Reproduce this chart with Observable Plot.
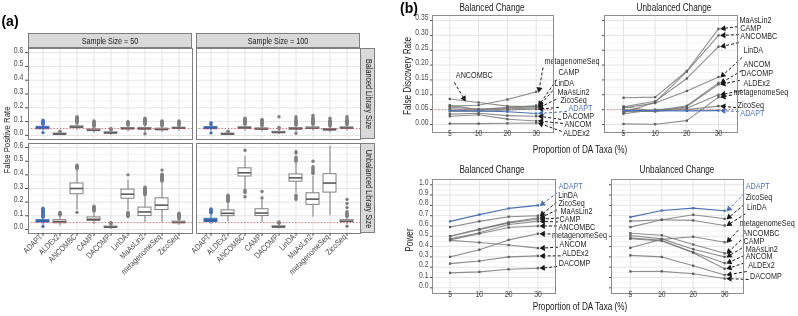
<!DOCTYPE html>
<html><head><meta charset="utf-8">
<script src="https://cdn.jsdelivr.net/npm/d3@7"></script>
<script src="https://cdn.jsdelivr.net/npm/@observablehq/plot@0.6"></script>
<style>
html,body{margin:0;background:#fff;}
#root{position:relative;width:798px;height:316px;overflow:hidden;font-family:"Liberation Sans",Arial,Helvetica,sans-serif;background:transparent;will-change:transform;}
.t{position:absolute;white-space:nowrap;color:#1a1a1a;line-height:1;filter:grayscale(1);}
.strip{position:absolute;background:#d9d9d9;border:1px solid #7f7f7f;box-sizing:border-box;}
</style></head><body><div id="root"></div>
<script>
// ---------- DATA ----------
const methods = ["ADAPT","ALDEx2","ANCOMBC","CAMP","DACOMP","LinDA","MaAsLin2","metagenomeSeq","ZicoSeq"];
const yTicksA = [0,0.1,0.2,0.3,0.4,0.5,0.6];
const yMinorA = [0.05,0.15,0.25,0.35,0.45,0.55];
// box stats per method: [lower whisker, q1, median, q3, upper whisker]
const boxBal50 = [
 [0.03,0.044,0.052,0.062,0.075],[0.0,0.006,0.009,0.013,0.02],[0.035,0.055,0.06,0.066,0.083],
 [0.015,0.032,0.037,0.043,0.06],[0.0,0.014,0.018,0.022,0.035],[0.025,0.044,0.049,0.054,0.07],
 [0.02,0.042,0.048,0.054,0.075],[0.02,0.038,0.043,0.049,0.065],[0.03,0.048,0.052,0.056,0.068]];
const outBal50 = [
 [0.02,0.08,0.085,0.09,0.095,0.1,0.105,0.11],[0.025,0.03],[0.09,0.095,0.1,0.105,0.11,0.115,0.12,0.125,0.13,0.135],
 [0.065,0.07,0.075,0.08,0.085,0.09,0.095,0.1,0.105],[0.04,0.045,0.05],[0.075,0.08,0.085,0.09,0.095,0.1],
 [0.012,0.08,0.085,0.09,0.095,0.1,0.105,0.11,0.115,0.12,0.125],[0.07,0.075,0.08,0.085,0.09,0.095,0.1,0.105],[0.072,0.078,0.084,0.09,0.096,0.1,0.105]];
const boxBal100 = [
 [0.03,0.045,0.051,0.06,0.072],[0.0,0.006,0.009,0.013,0.02],[0.03,0.049,0.054,0.059,0.075],
 [0.025,0.041,0.046,0.051,0.066],[0.005,0.017,0.021,0.026,0.04],[0.025,0.043,0.048,0.054,0.07],
 [0.03,0.047,0.052,0.058,0.075],[0.02,0.036,0.041,0.046,0.062],[0.03,0.049,0.053,0.058,0.072]];
const outBal100 = [
 [0.018,0.078,0.085,0.092],[0.025,0.03],[0.08,0.085,0.09,0.095,0.1,0.105,0.11,0.115,0.12,0.125],
 [0.07,0.075,0.08,0.085,0.09,0.095,0.1,0.105,0.11,0.115],[0.05,0.058,0.135],[0.015,0.075,0.08,0.085,0.09,0.095,0.1,0.11,0.12,0.135],
 [0.08,0.085,0.09,0.095,0.1,0.105,0.11,0.115,0.12,0.13,0.145],[0.068,0.075,0.08,0.085,0.09,0.095,0.1,0.11,0.125],[0.078,0.085,0.09,0.095,0.1,0.105,0.11,0.12,0.135]];
const boxUnb50 = [
 [0.03,0.052,0.058,0.068,0.085],[0.025,0.045,0.057,0.068,0.1],[0.14,0.258,0.3,0.337,0.43],
 [0.035,0.062,0.074,0.088,0.128],[0.0,0.012,0.016,0.021,0.035],[0.14,0.225,0.258,0.292,0.36],
 [0.05,0.098,0.128,0.16,0.25],[0.05,0.142,0.178,0.228,0.345],[0.03,0.046,0.051,0.057,0.073]];
const outUnb50 = [
 [0.022,0.09,0.095,0.1,0.105,0.11,0.115,0.12,0.125,0.13,0.135,0.14,0.145,0.15,0.155],[0.105,0.11,0.115,0.12,0.125],[0.125,0.445,0.45,0.455,0.46,0.465,0.47],
 [0.135,0.14,0.145,0.15,0.155,0.16,0.165,0.17],[0.04,0.045,0.05],[0.095,0.1,0.105,0.11,0.115,0.12,0.125,0.4],
 [0.255,0.26,0.265,0.27,0.275,0.28,0.285,0.29,0.295,0.3,0.305,0.31],[0.355,0.36,0.365,0.37,0.375,0.38,0.385,0.39,0.395,0.4,0.405,0.435],[0.078,0.083,0.088,0.093,0.098,0.103,0.108,0.113,0.118]];
const boxUnb100 = [
 [0.035,0.055,0.063,0.078,0.115],[0.055,0.097,0.118,0.14,0.2],[0.3,0.388,0.415,0.448,0.535],
 [0.05,0.098,0.12,0.148,0.215],[0.005,0.014,0.018,0.023,0.038],[0.265,0.35,0.378,0.403,0.485],
 [0.09,0.18,0.222,0.265,0.39],[0.1,0.27,0.34,0.405,0.61],[0.035,0.053,0.06,0.068,0.09]];
const outUnb100 = [
 [0.12,0.125,0.13,0.135,0.14,0.145,0.15],[0.205,0.21,0.215,0.22,0.225,0.23,0.235,0.24,0.245,0.25],[0.24,0.27,0.28,0.29,0.58],
 [0.23,0.278],[0.045,0.05,0.055],[0.22,0.23,0.24,0.25,0.5,0.51,0.52,0.53,0.56,0.57],
 [0.41,0.42,0.43,0.44,0.45,0.46,0.5],[],[0.024,0.095,0.1,0.105,0.11,0.115,0.12,0.13,0.16,0.19,0.22]];

const taxa = ["5","10","20","30"];
const fdrBalanced = [
 ["ANCOMBC",0.086,0.074,0.062,0.060],["metagenomeSeq",0.062,0.065,0.084,0.110],
 ["CAMP",0.065,0.050,0.057,0.064],["LinDA",0.058,0.052,0.056,0.060],
 ["MaAsLin2",0.053,0.048,0.052,0.056],["ZicoSeq",0.044,0.044,0.049,0.052],
 ["DACOMP",0.035,0.038,0.030,0.028],["ANCOM",0.028,0.033,0.018,0.012],
 ["ALDEx2",0.003,0.003,0.004,0.005],["ADAPT",0.047,0.046,0.043,0.037]];
const fdrUnbalanced = [
 ["MaAsLin2",0.090,0.092,0.180,0.322],["CAMP",0.040,0.075,0.178,0.300],
 ["ANCOMBC",0.060,0.078,0.155,0.262],["LinDA",0.056,0.072,0.113,0.160],
 ["ANCOM",0.050,0.046,0.063,0.140],["DACOMP",0.044,0.044,0.060,0.135],
 ["ALDEx2",0.036,0.050,0.055,0.100],["metagenomeSeq",0.002,0.001,0.013,0.092],
 ["ZicoSeq",0.060,0.045,0.050,0.062],["ADAPT",0.047,0.047,0.046,0.047]];
const powerBalanced = [
 ["LinDA",0.59,0.645,0.69,0.70],["ZicoSeq",0.50,0.57,0.635,0.68],
 ["MaAsLin2",0.50,0.565,0.63,0.665],["CAMP",0.475,0.535,0.615,0.645],
 ["ANCOMBC",0.465,0.525,0.585,0.60],["metagenomeSeq",0.30,0.37,0.465,0.525],
 ["ANCOM",0.46,0.44,0.415,0.385],["ALDEx2",0.235,0.26,0.30,0.31],
 ["DACOMP",0.145,0.155,0.18,0.19],["ADAPT",0.645,0.71,0.77,0.80]];
const powerUnbalanced = [
 ["ZicoSeq",0.647,0.66,0.709,0.67],["LinDA",0.589,0.66,0.654,0.605],
 ["metagenomeSeq",0.388,0.47,0.495,0.443],["ANCOMBC",0.53,0.51,0.42,0.335],
 ["CAMP",0.508,0.475,0.375,0.30],["MaAsLin2",0.485,0.46,0.345,0.24],
 ["ANCOM",0.476,0.455,0.34,0.185],["ALDEx2",0.315,0.30,0.215,0.125],
 ["DACOMP",0.159,0.16,0.136,0.09],["ADAPT",0.686,0.75,0.773,0.748]];

// label anchors (data units: taxa index, value, arrow target index)
const fdrBalancedLabels = [
 ["metagenomeSeq",3.29,0.205,3],["CAMP",3.77,0.165,3],["LinDA",3.63,0.128,3],["MaAsLin2",3.74,0.098,3],
 ["ZicoSeq",3.84,0.071,3],["ADAPT",4.12,0.044,3],["DACOMP",3.91,0.017,3],["ANCOM",3.98,-0.010,3],
 ["ALDEx2",3.94,-0.037,3],["ANCOMBC",0.21,0.155,0.45]];
const fdrUnbalancedLabels = [
 ["MaAsLin2",3.66,0.343,3],["CAMP",3.69,0.316,3],["ANCOMBC",3.69,0.289,3],["LinDA",3.79,0.239,3],
 ["ANCOM",3.79,0.195,3],["DACOMP",3.72,0.162,3],["ALDEx2",3.79,0.128,3],["metagenomeSeq",3.47,0.099,3],
 ["ZicoSeq",3.60,0.057,3],["ADAPT",3.69,0.030,3]];
const powerBalancedLabels = [
 ["ADAPT",3.71,0.961,3],["LinDA",3.69,0.870,3],["ZicoSeq",3.70,0.794,3],["MaAsLin2",3.77,0.717,3],
 ["CAMP",3.74,0.639,3],["ANCOMBC",3.70,0.561,3],["metagenomeSeq",3.48,0.483,3],["ANCOM",3.74,0.394,3],
 ["ALDEx2",3.83,0.310,3],["DACOMP",3.71,0.207,3]];
const powerUnbalancedLabels = [
 ["ADAPT",3.67,0.954,3],["ZicoSeq",3.67,0.848,3],["LinDA",3.71,0.757,3],["metagenomeSeq",3.48,0.598,3],
 ["ANCOMBC",3.57,0.505,3],["CAMP",3.60,0.425,3],["MaAsLin2",3.67,0.352,3],["ANCOM",3.67,0.280,3],
 ["ALDEx2",3.75,0.197,3],["DACOMP",3.81,0.081,3]];

// ---------- DRAWING ----------
const root = document.getElementById("root");
const FONT = "'Liberation Sans', Arial, Helvetica, sans-serif";
const BLUE = "#4a72b3", GRAY = "#7f7f7f", INK = "#262626", AXIS = "#4d4d4d";
const SX = 0.83; // horizontal compression of the original's lettering

function condense(svg) {
  svg.querySelectorAll("text").forEach(t => {
    let tr = t.getAttribute("transform") || "";
    if (t.hasAttribute("x") || t.hasAttribute("y")) {
      const x = +t.getAttribute("x") || 0, y = +t.getAttribute("y") || 0;
      t.removeAttribute("x"); t.removeAttribute("y");
      tr = `translate(${x},${y}) ` + tr;
    }
    t.setAttribute("transform", tr + ` scale(${SX},1)`);
    if (t.getAttribute("fill") !== BLUE) t.style.filter = "grayscale(1)";
  });
}
function place(fx, fy, fw, fh, m, opts) {
  const svg = Plot.plot({
    width: fw + m.l + m.r, height: fh + m.t + m.b,
    marginLeft: m.l, marginRight: m.r, marginTop: m.t, marginBottom: m.b,
    axis: null, color: {type: "identity"},
    ...opts
  });
  Object.assign(svg.style, {position: "absolute", left: (fx - m.l) + "px", top: (fy - m.t) + "px",
    background: "transparent", overflow: "visible", maxWidth: "none", fontFamily: FONT, fontSize: "8px", color: AXIS});
  condense(svg);
  root.append(svg);
}
function label(str, x, y, o = {}) {
  const d = document.createElement("div");
  d.className = "t"; d.textContent = str;
  d.style.left = x + "px"; d.style.top = y + "px";
  d.style.fontSize = (o.size || 10) + "px";
  const sx = o.sx == null ? 0.82 : o.sx;
  d.style.transform = "translate(-50%,-50%)" + (o.rotate ? ` rotate(${o.rotate}deg)` : "") + ` scaleX(${sx})`;
  if (o.bold) d.style.fontWeight = "bold";
  if (o.color) d.style.color = o.color;
  root.append(d);
}
function strip(x, y, w, h, str, rotate) {
  const d = document.createElement("div");
  d.className = "strip";
  Object.assign(d.style, {left: x + "px", top: y + "px", width: w + "px", height: h + "px"});
  root.append(d);
  label(str, x + w / 2, y + h / 2 + 0.5, {size: 9, sx: 0.8, rotate, color: "#1a1a1a"});
}

function boxPanel(stats, outl, fx, fy, fw, fh, showX, showY) {
  const rows = methods.map((m, i) => ({m, lo: stats[i][0], q1: stats[i][1], med: stats[i][2], q3: stats[i][3], hi: stats[i][4]}));
  const pts = methods.flatMap((m, i) => outl[i].map(v => ({m, v})));
  const col = d => d.m === "ADAPT" ? BLUE : GRAY;
  place(fx, fy, fw, fh, {l: 30, r: 4, t: 4, b: 50}, {
    x: {type: "band", domain: methods, paddingInner: 0.25, paddingOuter: 0.225},
    y: {domain: [-0.03, 0.63]},
    marks: [
      Plot.ruleY(yMinorA, {stroke: "#f3f3f3"}),
      Plot.gridY({ticks: yTicksA, stroke: "#e4e4e4", strokeOpacity: 1}),
      Plot.gridX({stroke: "#e4e4e4", strokeOpacity: 1}),
      Plot.ruleX(rows, {x: "m", y1: "lo", y2: "hi", stroke: col, strokeWidth: 1}),
      Plot.barY(rows, {x: "m", y1: "q1", y2: "q3", fill: d => d.m === "ADAPT" ? "#3f6db4" : "white", stroke: col, strokeWidth: 1}),
      Plot.tickY(rows, {x: "m", y: "med", stroke: d => d.m === "ADAPT" ? "#2f5ea8" : "#5a5a5a", strokeWidth: 1.6}),
      Plot.dot(pts, {x: "m", y: "v", r: 1.7, fill: col, stroke: null}),
      Plot.ruleY([0.05], {stroke: "#e05a5a", strokeDasharray: "1.2,2", strokeWidth: 1}),
      Plot.frame({stroke: "#7f7f7f"}),
      showY ? Plot.axisY({ticks: yTicksA, tickFormat: d3.format(".1f"), tickSize: 3, tickPadding: 2, label: null, fontSize: 8.4, fill: AXIS}) : null,
      showX ? Plot.axisX({tickRotate: -45, tickSize: 3, tickPadding: 1, label: null, fontSize: 8.4, fill: AXIS}) : null
    ]
  });
}

function linePanel(data, labels, fx, fy, fw, fh, xdom, ydom, yTicks, yMinor, fmt, showYLab, ref) {
  const pxX = fw / (xdom[1] - xdom[0]), pxY = fh / (ydom[1] - ydom[0]);
  const long = data.flatMap(r => [0, 1, 2, 3].map(i => ({m: r[0], i, v: r[i + 1]})));
  const others = long.filter(d => d.m !== "ADAPT"), adapt = long.filter(d => d.m === "ADAPT");
  const off = 4 / pxY;
  const links = [], heads = [];
  for (const [m, lx, ly, tx] of labels) {
    const row = data.find(r => r[0] === m);
    const k = Math.floor(Math.min(tx, 2.999)), f = tx - k;
    const ty = row[k + 1] + (row[Math.min(k + 2, 4)] - row[k + 1]) * f;
    let sy = ly;
    if (ly - ty > off) sy = ly - off; else if (ty - ly > off) sy = ly + off;
    const x1 = lx - 1.5 / pxX, x2 = tx + 2.5 / pxX;
    const dxp = (x2 - x1) * pxX, dyp = -(ty - sy) * pxY, len = Math.hypot(dxp, dyp);
    const ux = dxp / len, uy = dyp / len;
    const back = 2.6;
    const hx = x2 - ux * back / pxX, hy = ty + uy * back / pxY;
    links.push({m, x1, y1: sy, x2: hx, y2: hy});
    heads.push({m, x: hx, y: hy, a: Math.atan2(dxp, -dyp) * 180 / Math.PI});
  }
  const labs = labels.map(([m, lx, ly]) => ({m, lx, ly}));
  const arrowCol = d => d.m === "ADAPT" ? BLUE : "#1a1a1a";
  place(fx, fy, fw, fh, {l: 30, r: 70, t: 5, b: 20}, {
    x: {domain: xdom}, y: {domain: ydom},
    marks: [
      Plot.ruleY(yMinor, {stroke: "#f3f3f3"}),
      Plot.gridY({ticks: yTicks, stroke: "#e4e4e4", strokeOpacity: 1}),
      Plot.gridX({ticks: [0, 1, 2, 3], stroke: "#e4e4e4", strokeOpacity: 1}),
      ref ? Plot.ruleY([0.05], {stroke: "#e05a5a", strokeDasharray: "1.2,2", strokeWidth: 0.9}) : null,
      Plot.line(others, {x: "i", y: "v", z: "m", stroke: "#7a7a7a", strokeOpacity: 0.85, strokeWidth: 1.1}),
      Plot.dot(others, {x: "i", y: "v", symbol: "square", r: 1.3, fill: "#5e5e5e", stroke: null}),
      Plot.line(adapt, {x: "i", y: "v", stroke: BLUE, strokeWidth: 1.2}),
      Plot.dot(adapt, {x: "i", y: "v", symbol: "square", r: 1.3, fill: BLUE, stroke: null}),
      Plot.link(links, {x1: "x1", y1: "y1", x2: "x2", y2: "y2", stroke: arrowCol, strokeDasharray: "3,2", strokeWidth: 1}),
      Plot.dot(heads, {x: "x", y: "y", symbol: "triangle", r: 2.3, rotate: "a", fill: arrowCol, stroke: null}),
      Plot.text(labs, {x: "lx", y: "ly", text: "m", textAnchor: "start", fontSize: 8.7, fill: d => d.m === "ADAPT" ? BLUE : INK}),
      Plot.frame({stroke: "#8c8c8c"}),
      Plot.axisX({ticks: [0, 1, 2, 3], tickFormat: i => taxa[i], tickSize: 2, tickPadding: 1, label: null, fontSize: 8.2, fill: AXIS}),
      Plot.axisY({ticks: yTicks, tickFormat: showYLab ? fmt : () => "", tickSize: 2, tickPadding: 2, label: null, fontSize: 8.2, fill: AXIS})
    ]
  });
}

// (a)
label("(a)", 10, 21, {size: 14, bold: true, color: "#000", sx: 1});
strip(28, 33, 164, 15, "Sample Size = 50");
strip(196, 33, 164, 15, "Sample Size = 100");
strip(360, 48, 15, 91, "Balanced Library Size", 90);
strip(360, 143, 15, 90, "Unbalanced Library Size", 90);
boxPanel(boxBal50, outBal50, 28, 48, 164, 91, false, true);
boxPanel(boxBal100, outBal100, 196, 48, 164, 91, false, false);
boxPanel(boxUnb50, outUnb50, 28, 143, 164, 90, true, true);
boxPanel(boxUnb100, outUnb100, 196, 143, 164, 90, true, false);
label("False Positive Rate", 7, 140, {size: 9.5, rotate: -90});

// (b)
label("(b)", 409, 8, {size: 14, bold: true, color: "#000", sx: 1});
const fdrTicks = [0, 0.05, 0.1, 0.15, 0.2, 0.25, 0.3, 0.35];
const fdrMinor = [0.025, 0.075, 0.125, 0.175, 0.225, 0.275, 0.325];
const powTicks = [0, 0.1, 0.2, 0.3, 0.4, 0.5, 0.6, 0.7, 0.8, 0.9, 1.0];
const powMinor = [0.05, 0.15, 0.25, 0.35, 0.45, 0.55, 0.65, 0.75, 0.85, 0.95];
linePanel(fdrBalanced, fdrBalancedLabels, 432, 15, 121, 117, [-0.6, 3.6], [-0.0269, 0.3668], fdrTicks, fdrMinor, d3.format(".2f"), true, true);
linePanel(fdrUnbalanced, fdrUnbalancedLabels, 604, 15, 133, 117, [-0.6, 3.6], [-0.0269, 0.3668], fdrTicks, fdrMinor, d3.format(".2f"), false, true);
linePanel(powerBalanced, powerBalancedLabels, 432, 179, 123, 114, [-0.6, 3.6], [-0.055, 1.051], powTicks, powMinor, d3.format(".1f"), true, false);
linePanel(powerUnbalanced, powerUnbalancedLabels, 611, 179, 132, 114, [-0.6, 3.6], [-0.055, 1.051], powTicks, powMinor, d3.format(".1f"), false, false);
label("Balanced Change", 492, 8);
label("Unbalanced Change", 674, 8);
label("Balanced Change", 492, 170);
label("Unbalanced Change", 677, 170);
label("False Discovery Rate", 408, 76, {rotate: -90});
label("Power", 410, 240, {rotate: -90});
label("Proportion of DA Taxa (%)", 580, 150);
label("Proportion of DA Taxa (%)", 580, 307);
</script></body></html>
